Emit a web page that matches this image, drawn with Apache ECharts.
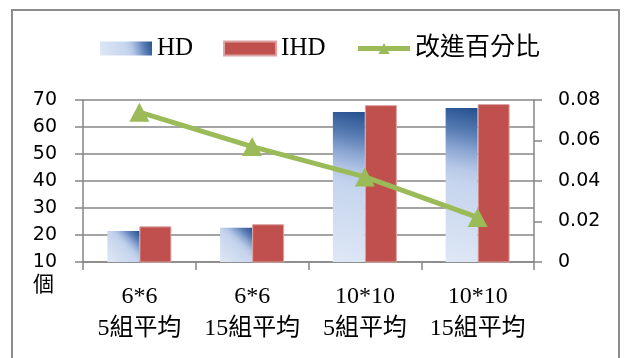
<!DOCTYPE html>
<html>
<head>
<meta charset="utf-8">
<script src="https://cdn.jsdelivr.net/npm/echarts@6/dist/echarts.min.js"></script>
<style>
  html, body { margin: 0; padding: 0; background: #ffffff; }
  #chart { width: 624px; height: 358px; }
</style>
</head>
<body>
<div id="chart"></div>
<script>
// Grid sizes and group counts
const categories = ['6*6\n5組平均', '6*6\n15組平均', '10*10\n5組平均', '10*10\n15組平均'];
const hdValues = [21.5, 22.7, 65.6, 67.0];
const ihdValues = [23.2, 24.0, 68.1, 68.5];
const improveValues = [0.074, 0.057, 0.042, 0.022];
const seriesNames = ['HD', 'IHD', '改進百分比'];
const unitLabel = '個';

const serifFont = '"Liberation Serif", "Times New Roman", "Noto Sans CJK TC", serif';
const axisGray = '#868686';
const lineGreen = '#9bbb59';

// HD bars: dark corner at the top right fading to pale blue
const hdGradient = new echarts.graphic.LinearGradient(1, 0, 0, 1, [
  { offset: 0, color: '#24508f' },
  { offset: 0.17, color: '#5a7eb5' },
  { offset: 0.29, color: '#8fa9d4' },
  { offset: 0.4, color: '#b7c9e8' },
  { offset: 0.5, color: '#c6d5ee' },
  { offset: 1, color: '#dee7f5' }
]);

const chart = echarts.init(document.getElementById('chart'), null, { renderer: 'canvas' });

chart.setOption({
  animation: false,
  backgroundColor: '#ffffff',
  graphic: [
    {
      type: 'rect',
      shape: { x: 12, y: 10, width: 607, height: 360 },
      style: { fill: 'none', stroke: '#8c8c8c', lineWidth: 2 },
      silent: true
    },
    {
      type: 'text',
      left: 33,
      top: 273,
      style: { text: unitLabel, font: '21px "Noto Sans CJK TC"', fill: '#000000' }
    }
  ],
  legend: {
    left: 100,
    top: 36,
    padding: 0,
    itemWidth: 52,
    itemHeight: 14,
    itemGap: 30,
    textStyle: { fontFamily: serifFont, fontSize: 25, color: '#000000' },
    data: [
      { name: seriesNames[0], icon: 'rect' },
      { name: seriesNames[1], icon: 'rect' },
      { name: seriesNames[2], lineStyle: { width: 5, color: lineGreen } }
    ]
  },
  grid: { left: 83, right: 90, top: 100, bottom: 96 },
  xAxis: {
    type: 'category',
    data: categories,
    axisLine: { show: true, lineStyle: { color: axisGray, width: 1.5 } },
    axisTick: { show: true, length: 8, lineStyle: { color: axisGray, width: 1.5 } },
    axisLabel: {
      margin: 19,
      fontFamily: serifFont,
      fontSize: 24,
      lineHeight: 32,
      color: '#000000',
      interval: 0
    }
  },
  yAxis: [
    {
      type: 'value',
      min: 10,
      max: 70,
      interval: 10,
      axisLine: { show: true, lineStyle: { color: axisGray, width: 1.5 } },
      axisTick: { show: true, length: 8, lineStyle: { color: axisGray, width: 1.5 } },
      splitLine: { show: true, lineStyle: { color: axisGray, width: 1.5 } },
      axisLabel: { margin: 26, fontFamily: '"DejaVu Sans", sans-serif', fontSize: 19, color: '#000000' }
    },
    {
      type: 'value',
      min: 0,
      max: 0.08,
      interval: 0.02,
      axisLine: { show: true, lineStyle: { color: axisGray, width: 1.5 } },
      axisTick: { show: true, length: 8, lineStyle: { color: axisGray, width: 1.5 } },
      splitLine: { show: false },
      axisLabel: { margin: 24, fontFamily: '"DejaVu Sans", sans-serif', fontSize: 19, color: '#000000' }
    }
  ],
  series: [
    {
      name: seriesNames[0],
      type: 'bar',
      data: hdValues,
      barWidth: 32,
      barGap: '0%',
      itemStyle: { color: hdGradient }
    },
    {
      name: seriesNames[1],
      type: 'bar',
      data: ihdValues,
      barWidth: 32,
      barGap: '0%',
      itemStyle: { color: '#c0504d', borderColor: '#dba3a2', borderWidth: 1 }
    },
    {
      name: seriesNames[2],
      type: 'line',
      yAxisIndex: 1,
      data: improveValues,
      symbol: 'triangle',
      symbolSize: [20, 19],
      lineStyle: { color: lineGreen, width: 5 },
      itemStyle: { color: lineGreen },
      z: 5
    }
  ]
});
</script>
</body>
</html>
